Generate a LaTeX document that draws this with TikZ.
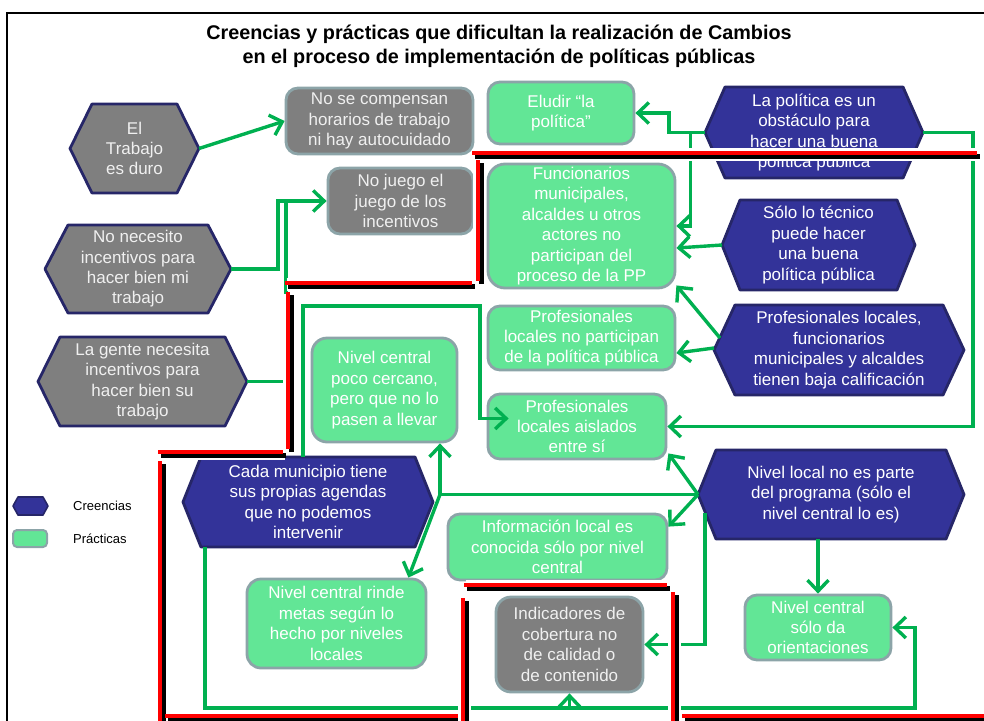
\documentclass[tikz,border=0pt]{standalone}
\usepackage{fontspec}
\setmainfont{Liberation Sans}
\usetikzlibrary{arrows.meta,backgrounds,calc}

\definecolor{navyfill}{RGB}{51,51,153}
\definecolor{navyline}{RGB}{38,38,104}
\definecolor{grayfill}{RGB}{127,127,127}
\definecolor{boxline}{RGB}{140,164,168}
\definecolor{practfill}{RGB}{98,230,150}
\definecolor{linkgreen}{RGB}{0,176,80}

% hexagon drawn behind a label node: points at west/east, corners inset by #2
\newcommand\hexfill[3]{%
  \begin{scope}[on background layer]
    \path[#3] (#1.west) -- ([xshift=#2]#1.north west) -- ([xshift=-#2]#1.north east)
      -- (#1.east) -- ([xshift=-#2]#1.south east) -- ([xshift=#2]#1.south west) -- cycle;
  \end{scope}}

% red barrier with a black shadow and a white halo
\newcommand\barrier[2]{%
  \draw[white, line width=13pt] ($#1+(1.5,1.5)$) -- ($#2+(1.5,1.5)$);
  \draw[black, line width=5pt] ($#1+(3,3)$) -- ($#2+(3,3)$);
  \draw[red, line width=4.5pt] #1 -- #2;}

\begin{document}
\begin{tikzpicture}[x=1pt,y=-1pt,
  every node/.style={font=\fontsize{17}{20.4}\selectfont, align=center, inner sep=0pt},
  rbox/.style={rounded corners=12pt, line width=2.8pt, draw=boxline, text=white},
  practica/.style={rbox, fill=practfill},
  grisbox/.style={rbox, fill=grayfill, text=white!94!black},
  hexlabel/.style={text=white, outer sep=0pt},
  grislabel/.style={text=white!94!black, outer sep=0pt},
  creencia/.style={fill=navyfill, draw=navyline, line width=2.8pt, line join=round},
  grishex/.style={fill=grayfill, draw=navyline, line width=2.8pt, line join=round},
  conn/.style={draw=linkgreen, line width=3.4pt, -{Straight Barb[length=11pt,width=21pt]}},
  link/.style={draw=linkgreen, line width=3.4pt},
]
\useasboundingbox (0,0) rectangle (984,720);
\clip (0,0) rectangle (984,720);
\draw[line width=2pt] (7,13) rectangle (1000,740);

% title
\node[font=\bfseries\fontsize{19.8}{24}\selectfont] (title) at (499,46)
  {Creencias y prácticas que dificultan la realización de Cambios\\en el proceso de implementación de políticas públicas};

% beliefs in gray (left)
\node[grislabel, minimum width=129pt, minimum height=89pt] (trab) at (134.5,148.5) {El\\Trabajo\\es duro};
\hexfill{trab}{22pt}{grishex}
\node[grislabel, minimum width=186pt, minimum height=88pt] (nonec) at (138,269) {No necesito\\incentivos para\\hacer bien mi\\trabajo};
\hexfill{nonec}{23pt}{grishex}
\node[grislabel, minimum width=209pt, minimum height=89pt] (gente) at (142.5,381.5) {La gente necesita\\incentivos para\\hacer bien su\\trabajo};
\hexfill{gente}{22pt}{grishex}

% beliefs in navy
\node[hexlabel, minimum width=218pt, minimum height=91pt] (polit) at (814,132.5) {La política es un\\obstáculo para\\hacer una buena\\política pública};
\hexfill{polit}{20pt}{creencia}
\node[hexlabel, minimum width=193pt, minimum height=90pt] (tecn) at (818.5,245) {Sólo lo técnico\\puede hacer\\una buena\\política pública};
\hexfill{tecn}{18pt}{creencia}
\node[hexlabel, minimum width=250pt, minimum height=90pt] (prof) at (839,350) {Profesionales locales,\\funcionarios\\municipales y alcaldes\\tienen baja calificación};
\hexfill{prof}{21pt}{creencia}
\node[hexlabel, minimum width=266pt, minimum height=89pt] (nloc) at (831,494.5) {Nivel local no es parte\\del programa (sólo el\\nivel central lo es)};
\hexfill{nloc}{18pt}{creencia}
\node[hexlabel, minimum width=250pt, minimum height=90pt] (cada) at (308,502) {Cada municipio tiene\\sus propias agendas\\que no podemos\\intervenir};
\hexfill{cada}{18pt}{creencia}

% practices in gray
\node[grisbox, minimum width=187pt, minimum height=66pt] (comp) at (379.5,121) {No se compensan\\horarios de trabajo\\ni hay autocuidado};
\node[grisbox, minimum width=145pt, minimum height=66pt] (juego) at (400.5,201) {No juego el\\juego de los\\incentivos};
\node[grisbox, rounded corners=15pt, minimum width=147pt, minimum height=95pt] (indic) at (569.5,644.5) {Indicadores de\\cobertura no\\de calidad o\\de contenido};

% practices in green
\node[practica, minimum width=146pt, minimum height=62pt] (elud) at (561,113) {Eludir “la\\política”};
\node[practica, rounded corners=17pt, minimum width=187pt, minimum height=124pt] (func) at (581.5,226) {Funcionarios\\municipales,\\alcaldes u otros\\actores no\\participan del\\proceso de la PP};
\node[practica, minimum width=187pt, minimum height=64pt] (pnp) at (581.5,338) {Profesionales\\locales no participan\\de la política pública};
\node[practica, minimum width=178pt, minimum height=65pt] (aisl) at (577,426.5) {Profesionales\\locales aislados\\entre sí};
\node[practica, rounded corners=15pt, minimum width=145pt, minimum height=104pt] (cerc) at (384.5,390) {Nivel central\\poco cercano,\\pero que no lo\\pasen a llevar};
\node[practica, minimum width=219pt, minimum height=66pt] (info) at (557.5,547) {Información local es\\conocida sólo por nivel\\central};
\node[practica, rounded corners=14pt, minimum width=179pt, minimum height=89pt] (rinde) at (336.5,623.5) {Nivel central rinde\\metas según lo\\hecho por niveles\\locales};
\node[practica, minimum width=146pt, minimum height=65pt] (orient) at (818,627.5) {Nivel central\\sólo da\\orientaciones};

% junction points of the connectors
\coordinate (jinc) at (286,201);
\coordinate (jloc) at (440,494.5);
\coordinate (jtop) at (480,306);
\coordinate (jbot) at (915,708);

% connectors
\draw[conn] (trab.east) -- (comp.west);
\draw[conn] (nonec.east) -- ++(47,0) |- (juego.west);
\draw[link] (gente.east) -| (jinc);
\draw[conn] (polit.west) -- ++(-36,0) |- (elud.east);
\draw[conn] (polit.west) -| ($(func.east)+(14,0)$) -- (func.east);
\draw[conn] (polit.east) -- ++(50,0) |- (aisl.east);
\draw[conn] (tecn.west) -- ($(func.east)+(0,22)$);
\draw[conn] ($(prof.west)+(6,-12)$) -- ($(func.south east)+(0,-4)$);
\draw[conn] ($(prof.west)+(0,-2)$) -- ($(pnp.east)+(0,15)$);
\draw[conn] (nloc.west) -- ($(aisl.south east)+(1,-7)$);
\draw[conn] (nloc.west) -- ($(info.north east)+(0,14)$);
\draw[link] (nloc.west) -- (jloc);
\draw[conn] (jloc) -- (jloc |- cerc.south);
\draw[conn] (jloc) -- ($(rinde.north east)+(-19,0)$);
\draw[conn] ($(nloc.west)+(7,18.5)$) |- (indic.east);
\draw[conn] (nloc.south -| orient.north) -- (orient.north);
\draw[conn] ($(cada.south west)+(22,0)$) |- (jbot) |- (orient.east);
\draw[conn] (indic.south |- jbot) -- (indic.south);
\draw[conn] ($(cada.north)+(-5,0)$) |- (jtop) |- ($(aisl.west)+(22,-8)$);

% barriers
\barrier{(472,153)}{(977,153)}
\barrier{(478,160)}{(478,281)}
\barrier{(285,283)}{(472,283)}
\barrier{(288,292)}{(288,449)}
\barrier{(158,452)}{(283,452)}
\barrier{(160,461)}{(160,730)}
\barrier{(165,716)}{(458,716)}
\barrier{(463,598)}{(463,730)}
\barrier{(464,585)}{(667,585)}
\barrier{(673,592)}{(673,730)}
\barrier{(682,716)}{(990,716)}

% legend
\node[minimum width=35pt, minimum height=18pt, outer sep=0pt] (leghex) at (30.5,506) {};
\hexfill{leghex}{5pt}{creencia, line width=1.6pt}
\node[anchor=west, font=\fontsize{13}{15}\selectfont] (legc) at (73,506) {Creencias};
\node[practica, rounded corners=4pt, line width=2pt, minimum width=34pt, minimum height=17pt] (legbox) at (30,538.5) {};
\node[anchor=west, font=\fontsize{13}{15}\selectfont] (legp) at (73,539) {Prácticas};
\end{tikzpicture}
\end{document}
